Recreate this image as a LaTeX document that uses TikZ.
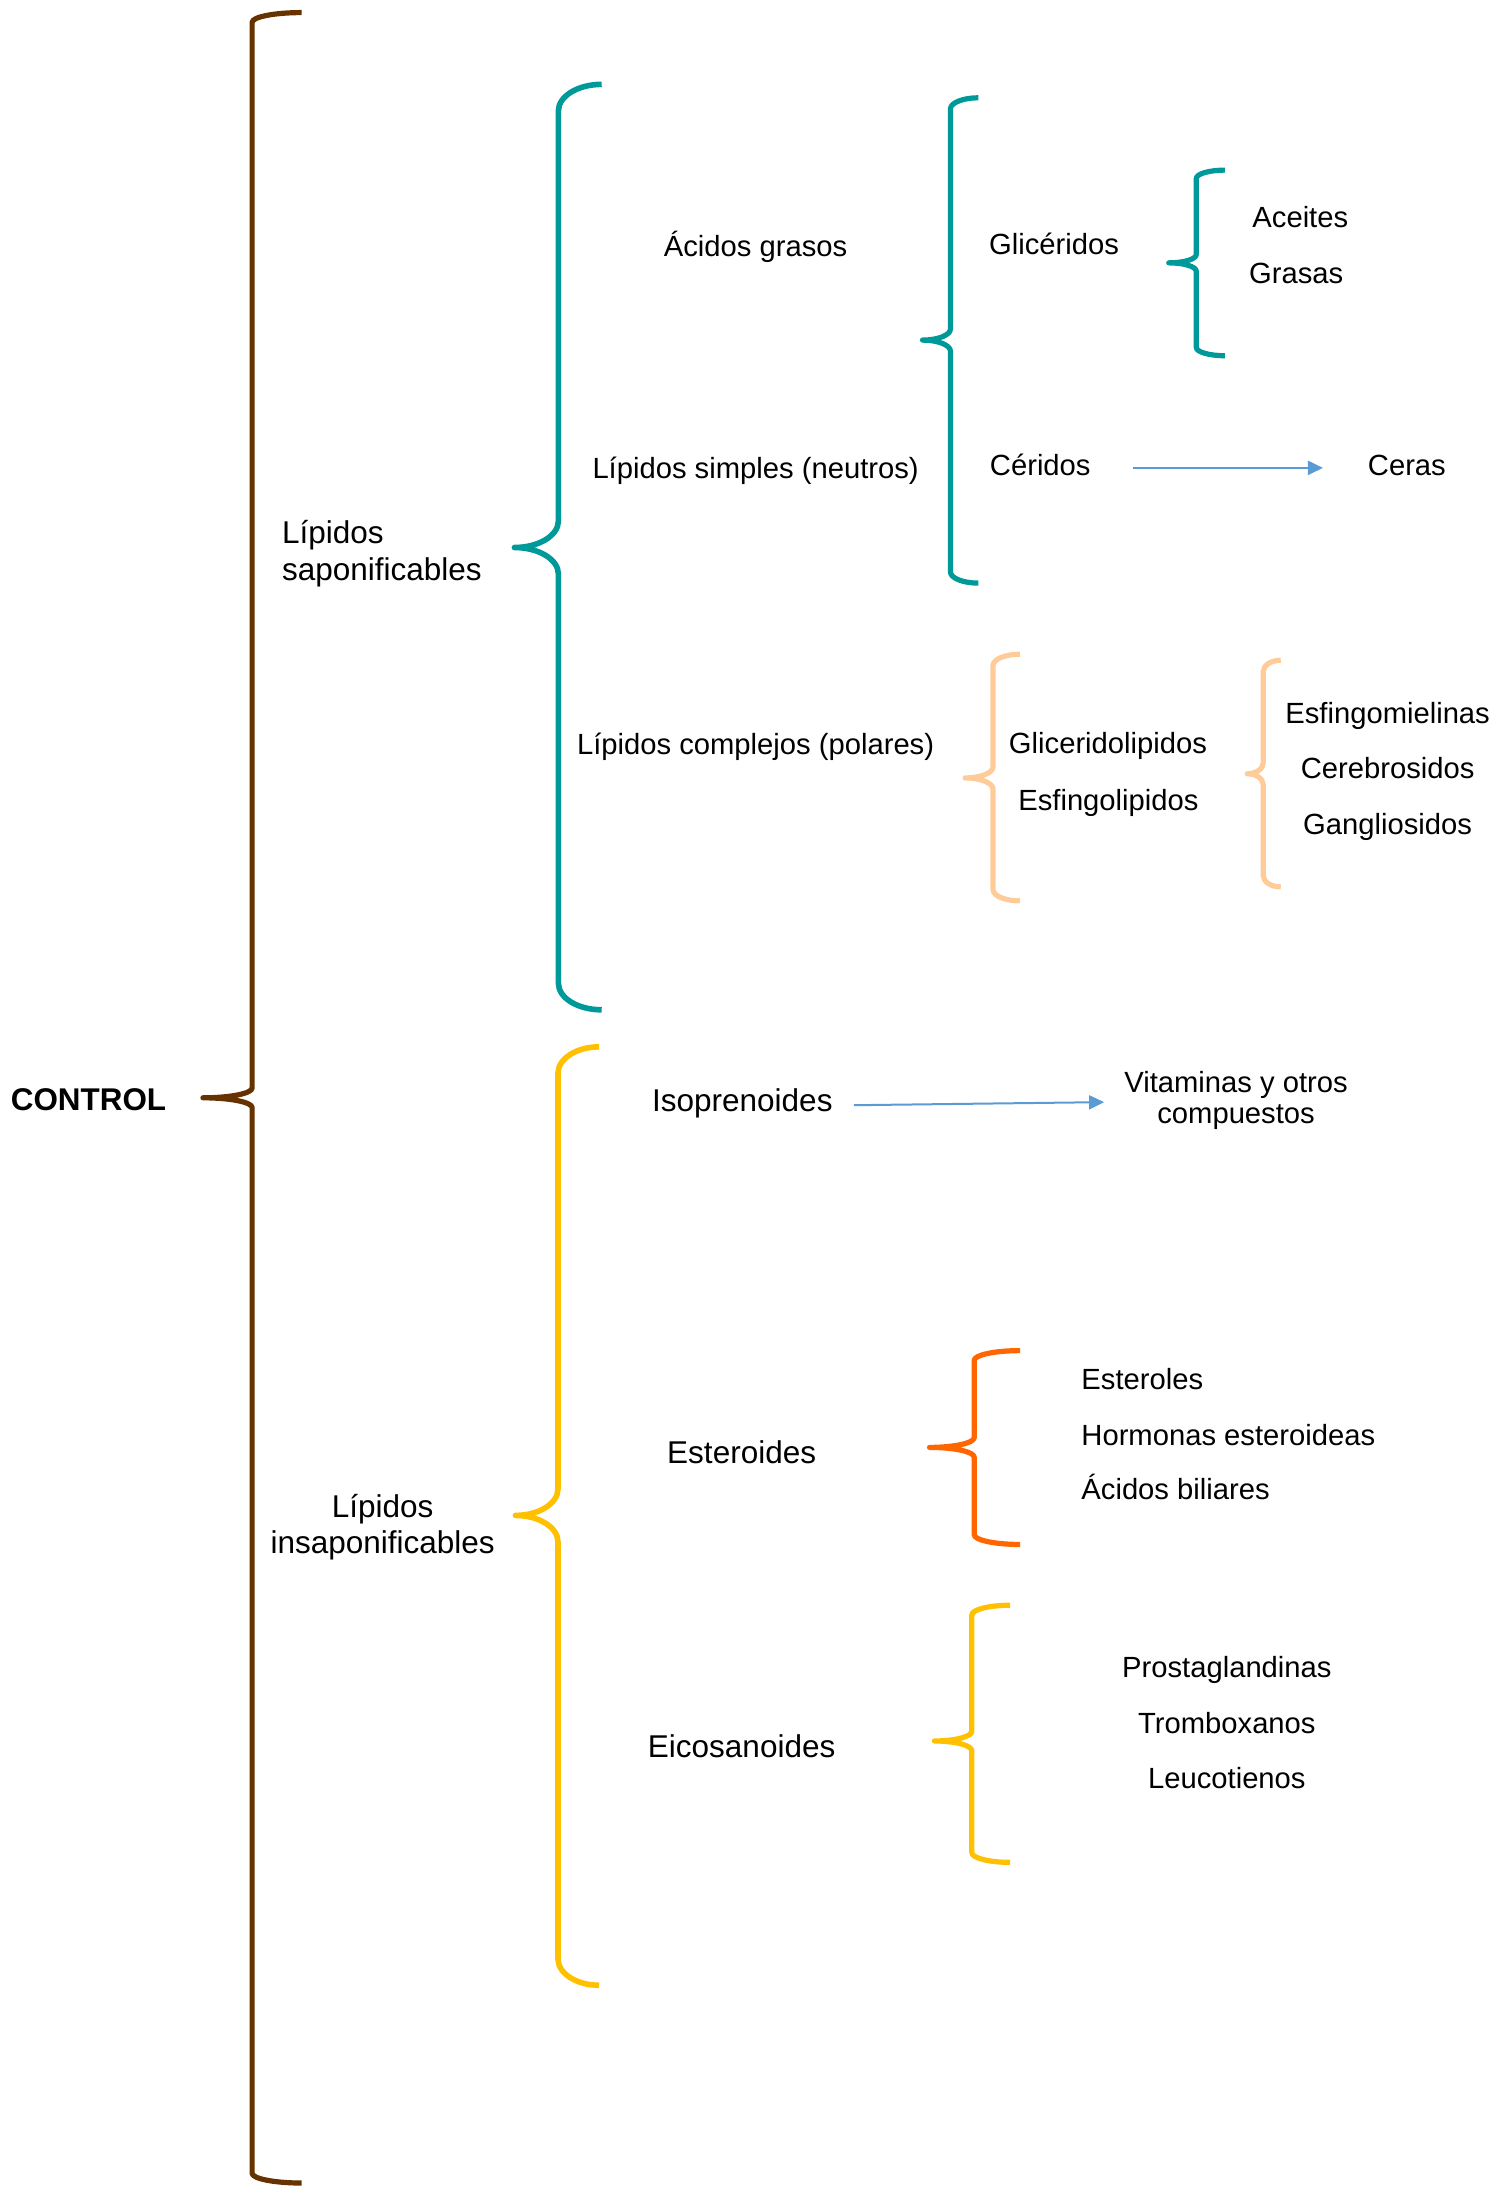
\documentclass[tikz,border=0pt]{standalone}
\usepackage{fontspec}
\setmainfont{Liberation Sans}
\usetikzlibrary{arrows.meta}
\definecolor{cbrown}{HTML}{663300}
\definecolor{cteal}{HTML}{009999}
\definecolor{cyellow}{HTML}{FFC000}
\definecolor{corange}{HTML}{FF6600}
\definecolor{cpeach}{HTML}{FFCC99}
\definecolor{cblue}{HTML}{5B9BD5}
% #1 style, #2 end x, #3 vertical x, #4 tip x, #5 top y, #6 tip y, #7 bottom y, #8 corner radius
\newcommand{\mybrace}[8]{%
 \draw[#1] (#2,#5) .. controls ({#2-0.5523*(#2-#3)},#5) and (#3,{#5+#8-0.5523*#8}) .. (#3,{#5+#8})
  -- (#3,{#6-#8}) .. controls (#3,{#6-#8+0.5523*#8}) and ({#4+0.5523*(#3-#4)},#6) .. (#4,#6)
  .. controls ({#4+0.5523*(#3-#4)},#6) and (#3,{#6+#8-0.5523*#8}) .. (#3,{#6+#8})
  -- (#3,{#7-#8}) .. controls (#3,{#7-#8+0.5523*#8}) and ({#2-0.5523*(#2-#3)},#7) .. (#2,#7);}
\tikzset{
 brc/.style={line width=2.6pt, line cap=butt, line join=round},
 txt/.style={inner sep=0pt, font=\fontsize{14.6pt}{17pt}\selectfont, anchor=base},
 big/.style={inner sep=0pt, font=\fontsize{15.75pt}{18.6pt}\selectfont, anchor=base},
 arr/.style={cblue, line width=1pt, -{Triangle[length=7.5pt,width=7pt]}}
}
\begin{document}
\begin{tikzpicture}[x=0.6983pt,y=-0.6983pt]
\useasboundingbox (0,0) rectangle (1082,1568);
% braces
\mybrace{brc,cbrown,line width=2.6pt}{216}{180.5}{145.3}{9}{786}{1563}{7}
\mybrace{brc,cteal,line width=2.8pt}{430.8}{399.8}{368.3}{60.4}{392}{723}{19}
\mybrace{brc,cyellow,line width=2.8pt}{429}{399.5}{369}{749.5}{1085}{1421.4}{19}
\mybrace{brc,cteal}{700.5}{680.5}{660.5}{70}{243.5}{417.5}{8}
\mybrace{brc,cteal}{877}{856.5}{836.8}{121.8}{188.2}{254.7}{6}
\mybrace{brc,cpeach}{730.3}{711}{691}{468.4}{557}{645}{8}
\mybrace{brc,cpeach}{917}{904.5}{893}{472.7}{554}{635}{8}
\mybrace{brc,corange}{730.4}{697.5}{665.5}{967}{1036.3}{1105.8}{7}
\mybrace{brc,cyellow}{723.2}{695.8}{669}{1149.3}{1246.5}{1333.4}{7}
% texts
\node[inner sep=0pt, anchor=base west, font=\fontsize{15.7pt}{18pt}\selectfont\bfseries] (control) at (7.5,794.9) {CONTROL};
\node[big, anchor=base west, align=left, font=\fontsize{15.75pt}{18.6pt}\selectfont] (sap) at (201.7,415.7) {Lípidos\\saponificables};
\node[big, align=center, font=\fontsize{15.75pt}{18.2pt}\selectfont] (insap) at (274,1112.5) {Lípidos\\insaponificables};
\node[txt] (acidos) at (541,183.5) {Ácidos grasos};
\node[txt] (simples) at (541,342.5) {Lípidos simples (neutros)};
\node[txt] (complejos) at (541,540.5) {Lípidos complejos (polares)};
\node[txt] (gliceridos) at (754.7,182.3) {Glicéridos};
\node[txt] (aceites) at (931,162.6) {Aceites};
\node[txt] (grasas) at (928,202.8) {Grasas};
\node[txt, anchor=base west] (ceridos) at (708.5,340.4) {Céridos};
\node[txt] (ceras) at (1007.3,340.4) {Ceras};
\node[txt] (glicerido) at (793.3,539.6) {Gliceridolipidos};
\node[txt] (esfingo) at (793.6,580) {Esfingolipidos};
\node[txt] (esfmiel) at (993.5,518) {Esfingomielinas};
\node[txt] (cerebro) at (993.5,557.6) {Cerebrosidos};
\node[txt] (gangli) at (993.5,597.7) {Gangliosidos};
\node[big] (isopren) at (531.5,796) {Isoprenoides};
\node[txt, align=center, font=\fontsize{14.6pt}{15.5pt}\selectfont] (vitam) at (885,804.4) {Vitaminas y otros\\compuestos};
\node[big] (esteroides) at (531,1048) {Esteroides};
\node[txt, anchor=base west] (esteroles) at (774,994.6) {Esteroles};
\node[txt, anchor=base west] (hormonas) at (774,1034.7) {Hormonas esteroideas};
\node[txt, anchor=base west] (biliares) at (774,1073.8) {Ácidos biliares};
\node[big] (eicosa) at (531,1258) {Eicosanoides};
\node[txt] (prosta) at (878.4,1200.9) {Prostaglandinas};
\node[txt] (trombo) at (878.4,1240.9) {Tromboxanos};
\node[txt] (leuco) at (878.4,1280.5) {Leucotienos};
% arrows
\coordinate (a1s) at (811,335);
\coordinate (a1e) at (947.2,335);
\coordinate (a2s) at (611.4,791.3);
\coordinate (a2e) at (790.5,789.1);
\draw[arr] (a1s) -- (a1e);
\draw[arr] (a2s) -- (a2e);
\end{tikzpicture}
\end{document}
